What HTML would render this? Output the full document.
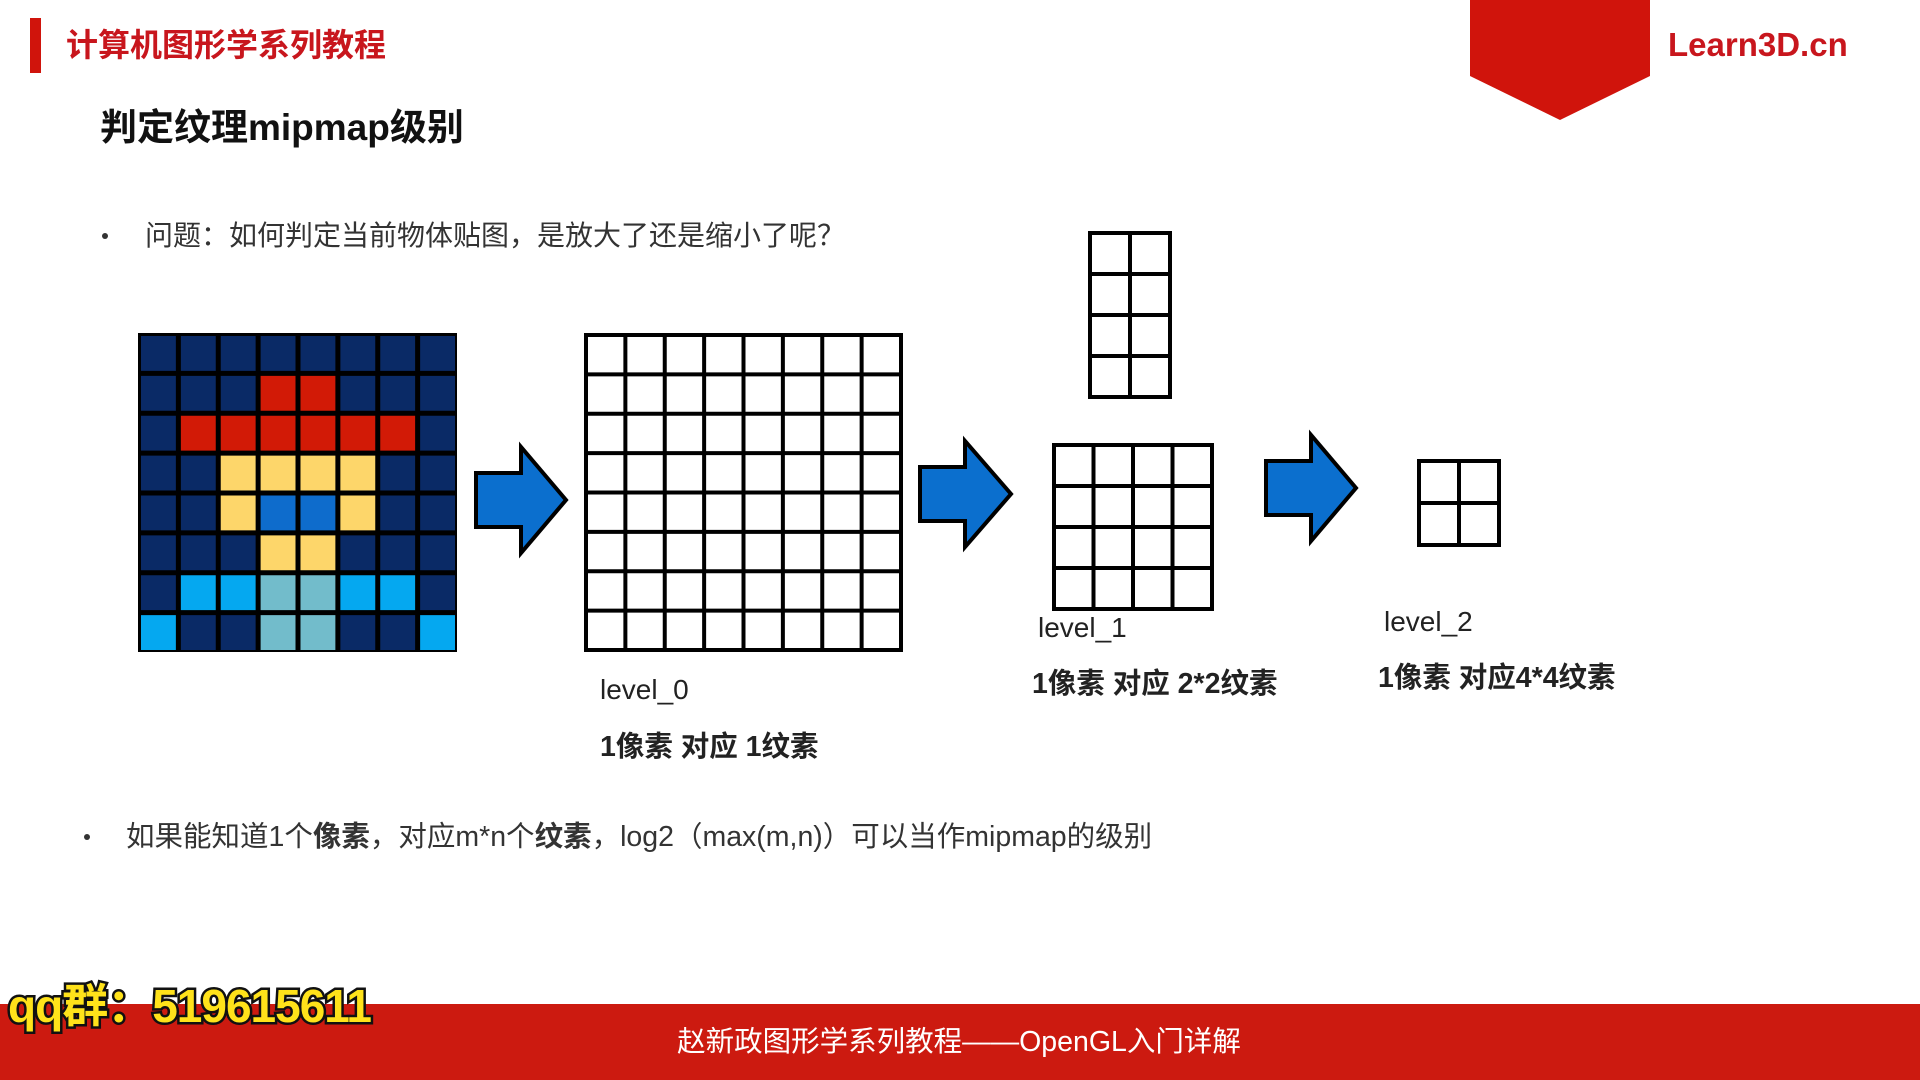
<!DOCTYPE html>
<html><head><meta charset="utf-8"><style>
html,body{margin:0;padding:0;background:#fff;}
svg{display:block}
text{font-family:"Liberation Sans","Noto Sans CJK SC",sans-serif;}
</style></head><body>
<svg width="1920" height="1080" viewBox="0 0 1920 1080" xmlns="http://www.w3.org/2000/svg">
<rect width="1920" height="1080" fill="#fff"/>
<rect x="30" y="18" width="11" height="55" fill="#d0140c"/>
<text x="66" y="56" font-size="32" font-weight="bold" fill="#c8161d">计算机图形学系列教程</text>
<polygon points="1470,0 1650,0 1650,76 1560,120 1470,76" fill="#d0140c"/>
<text x="1668" y="56" font-size="33" font-weight="bold" fill="#c8161d">Learn3D.cn</text>
<text x="100" y="140" font-size="37" font-weight="bold" fill="#111">判定纹理mipmap级别</text>
<circle cx="105" cy="236" r="3" fill="#333"/>
<text x="145" y="245" font-size="28" fill="#333">问题：如何判定当前物体贴图，是放大了还是缩小了呢？</text>
<g id="px"></g>
<g fill="#0b6fce" stroke="#000" stroke-width="4" stroke-linejoin="miter">
<polygon points="476,473 521,473 521,447 566,500 521,553 521,527 476,527"/>
<polygon points="920,467 965,467 965,441 1011,494 965,547 965,521 920,521"/>
<polygon points="1266,461 1311,461 1311,435 1356,488 1311,541 1311,515 1266,515"/>
</g>
<g fill="none" stroke="#000" stroke-width="4" id="grids"></g>
<text x="600" y="699" font-size="28" fill="#222">level_0</text>
<text x="600" y="756" font-size="28.5" font-weight="bold" fill="#222">1像素 对应 1纹素</text>
<text x="1038" y="637" font-size="28" fill="#222">level_1</text>
<text x="1032" y="693" font-size="28.5" font-weight="bold" fill="#222">1像素 对应 2*2纹素</text>
<text x="1384" y="631" font-size="28" fill="#222">level_2</text>
<text x="1378" y="687" font-size="28.5" font-weight="bold" fill="#222">1像素 对应4*4纹素</text>
<circle cx="87" cy="837" r="3" fill="#333"/>
<text x="126" y="846" font-size="28.5" fill="#333">如果能知道1个<tspan font-weight="bold">像素</tspan>，对应m*n个<tspan font-weight="bold">纹素</tspan>，log2（max(m,n)）可以当作mipmap的级别</text>
<rect x="0" y="1004" width="1920" height="76" fill="#cc1a10"/>
<text x="959" y="1051" font-size="28.5" fill="#fff" text-anchor="middle">赵新政图形学系列教程——OpenGL入门详解</text>
<text x="8" y="1022" font-size="46" font-weight="bold" fill="#ffe21a" stroke="#111" stroke-width="5" paint-order="stroke" letter-spacing="-1">qq群：519615611</text>
</svg>
<script>
var ns="http://www.w3.org/2000/svg";
var D="#0a2a66",R="#d21a06",Y="#fdd66a",B="#0e6ccc",L="#05a8f0",T="#72bccb";
var m=[[D,D,D,D,D,D,D,D],[D,D,D,R,R,D,D,D],[D,R,R,R,R,R,R,D],[D,D,Y,Y,Y,Y,D,D],[D,D,Y,B,B,Y,D,D],[D,D,D,Y,Y,D,D,D],[D,L,L,T,T,L,L,D],[L,D,D,T,T,D,D,L]];
var g=document.getElementById("px");
function el(n,a,p){var e=document.createElementNS(ns,n);for(var k in a)e.setAttribute(k,a[k]);p.appendChild(e);}
el("rect",{x:138,y:333,width:319,height:319,fill:"#000"},g);
var c=319/8;
for(var r=0;r<8;r++)for(var q=0;q<8;q++)el("rect",{x:138+q*c+3,y:333+r*c+3,width:c-5,height:c-5,fill:m[r][q]},g);
var gg=document.getElementById("grids");
function grid(x,y,w,h,cols,rows){
 el("rect",{x:x,y:y,width:w,height:h},gg);
 for(var i=1;i<cols;i++)el("line",{x1:x+w*i/cols,y1:y,x2:x+w*i/cols,y2:y+h},gg);
 for(var j=1;j<rows;j++)el("line",{x1:x,y1:y+h*j/rows,x2:x+w,y2:y+h*j/rows},gg);
}
grid(586,335,315,315,8,8);
grid(1090,233,80,164,2,4);
grid(1054,445,158,164,4,4);
grid(1419,461,80,84,2,2);
</script>
</body></html>
